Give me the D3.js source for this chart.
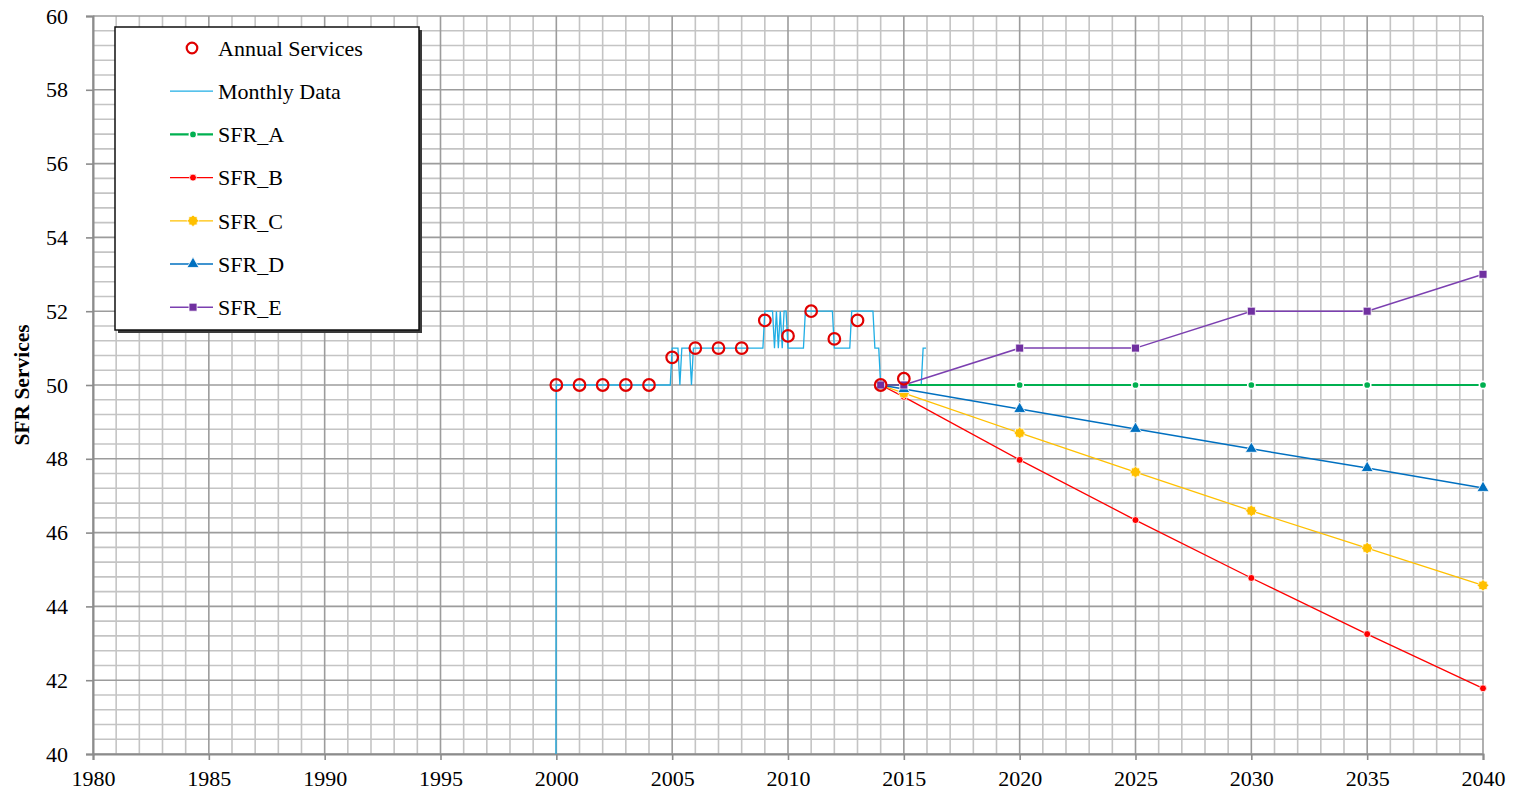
<!DOCTYPE html>
<html>
<head>
<meta charset="utf-8">
<script src="https://cdn.jsdelivr.net/npm/d3@7"></script>
<style>
  html, body { margin: 0; padding: 0; background: #ffffff; }
  svg { display: block; font-family: "Liberation Serif", "Times New Roman", serif; }
</style>
</head>
<body>
<svg id="chart" width="1515" height="793"></svg>
<script>
// ---------------- DATA ----------------
const xTickYears = [1980, 1985, 1990, 1995, 2000, 2005, 2010, 2015, 2020, 2025, 2030, 2035, 2040];
const yTickValues = [40, 42, 44, 46, 48, 50, 52, 54, 56, 58, 60];

// Annual services (red open circles)
const annualYears  = [2000, 2001, 2002, 2003, 2004, 2005, 2006, 2007, 2008, 2009, 2010, 2011, 2012, 2013, 2014, 2015];
const annualValues = [50, 50, 50, 50, 50, 50.75, 51, 51, 51, 51.75, 51.33, 52, 51.25, 51.75, 50, 50.17];

// Monthly data (vertices of the monthly line, year as decimal)
const monthlyYears  = [1999.917, 2000, 2004.917, 2005, 2005.25, 2005.333, 2005.417, 2005.75, 2005.833, 2005.917,
  2008.917, 2009, 2009.333, 2009.417, 2009.5, 2009.583, 2009.667, 2009.75, 2009.833, 2009.917, 2010,
  2010.667, 2010.75, 2011.917, 2012, 2012.667, 2012.75, 2013.667, 2013.75, 2013.917, 2014,
  2015.75, 2015.833, 2015.958];
const monthlyValues = [0, 50, 50, 51, 51, 50, 51, 51, 50, 51,
  51, 52, 52, 51, 52, 51, 52, 51, 52, 52, 51,
  51, 52, 52, 51, 51, 52, 52, 51, 51, 50,
  50, 51, 51];

// Projections
const projYears = [2014, 2015, 2020, 2025, 2030, 2035, 2040];
const sfrA = [50, 50, 50, 50, 50, 50, 50];
const sfrB = [50, 49.68, 47.97, 46.34, 44.77, 43.25, 41.78];
const sfrC = [50, 49.78, 48.70, 47.64, 46.59, 45.58, 44.57];
const sfrD = [50, 49.89, 49.35, 48.81, 48.27, 47.75, 47.21];
const sfrE = [50, 50, 51, 51, 52, 52, 53];

const seriesNames = ["SFR_A", "SFR_B", "SFR_C", "SFR_D", "SFR_E"];

// ---------------- STYLES ----------------
const seriesStyle = {
  SFR_A: { color: "#00B050", line: "#00B050", width: 2.2, shape: "circle", size: 42 },
  SFR_B: { color: "#FF0000", line: "#FF0000", width: 1.3, shape: "circle", size: 38 },
  SFR_C: { color: "#FFC000", line: "#FFC000", width: 1.3, shape: "star", size: 95 },
  SFR_D: { color: "#0070C0", line: "#0070C0", width: 1.5, shape: "triangle", size: 62 },
  SFR_E: { color: "#7030A0", line: "#7B3FB0", width: 1.5, shape: "square", size: 64 }
};
const monthlyColor = "#1FAEE5";
const annualColor = "#E00000";

const svg = d3.select("#chart");
const pLeft = 93, pRight = 1483, pTop = 16, pBottom = 754;

const x = d3.scaleLinear().domain([1980, 2040]).range([pLeft, pRight]);
const y = d3.scaleLinear().domain([40, 60]).range([pBottom, pTop]);

// clip
svg.append("defs").append("clipPath").attr("id", "plotclip")
  .append("rect").attr("x", pLeft).attr("y", pTop).attr("width", pRight - pLeft).attr("height", pBottom - pTop);

// ---------------- GRID ----------------
const grid = svg.append("g");
const minorX = d3.range(1980, 2041, 1).filter(v => v % 5 !== 0);
const minorY = d3.range(0, 51).map(i => 40 + i * 0.4).filter(v => Math.abs(v / 2 - Math.round(v / 2)) > 1e-6);

grid.selectAll("line.mx").data(minorX).join("line")
  .attr("x1", d => x(d)).attr("x2", d => x(d)).attr("y1", pTop).attr("y2", pBottom)
  .attr("stroke", "#c4c4c4").attr("stroke-width", 1.6);
grid.selectAll("line.my").data(minorY).join("line")
  .attr("x1", pLeft).attr("x2", pRight).attr("y1", d => y(d)).attr("y2", d => y(d))
  .attr("stroke", "#c4c4c4").attr("stroke-width", 1.6);
grid.selectAll("line.MX").data(xTickYears).join("line")
  .attr("x1", d => x(d)).attr("x2", d => x(d)).attr("y1", pTop).attr("y2", pBottom)
  .attr("stroke", "#9c9c9c").attr("stroke-width", 1.6);
grid.selectAll("line.MY").data(yTickValues).join("line")
  .attr("x1", pLeft).attr("x2", pRight).attr("y1", d => y(d)).attr("y2", d => y(d))
  .attr("stroke", "#9c9c9c").attr("stroke-width", 1.6);

// ---------------- AXES ----------------
const yAxis = d3.axisLeft(y).tickValues(yTickValues).tickSize(7).tickPadding(18).tickFormat(d3.format("d"));
const gy = svg.append("g").attr("transform", `translate(${pLeft},0)`).call(yAxis);
gy.select(".domain").attr("stroke", "#8c8c8c").attr("stroke-width", 2);
gy.selectAll(".tick line").attr("stroke", "#8c8c8c").attr("stroke-width", 1.6);
gy.selectAll(".tick text").attr("font-size", "22px").attr("fill", "#000")
  .attr("font-family", "Liberation Serif, Times New Roman, serif");

const xAxis = d3.axisBottom(x).tickValues(xTickYears).tickSize(6).tickPadding(10).tickFormat(d3.format("d"));
const gx = svg.append("g").attr("transform", `translate(0,${pBottom})`).call(xAxis);
gx.select(".domain").attr("stroke", "#8c8c8c").attr("stroke-width", 2);
gx.selectAll(".tick line").attr("stroke", "#8c8c8c").attr("stroke-width", 1.6);
gx.selectAll(".tick text").attr("font-size", "22px").attr("fill", "#000")
  .attr("font-family", "Liberation Serif, Times New Roman, serif");

svg.append("text")
  .attr("transform", `translate(29,${(pTop + pBottom) / 2}) rotate(-90)`)
  .attr("text-anchor", "middle")
  .attr("font-size", "21.5px").attr("font-weight", "bold")
  .text("SFR Services");

// ---------------- SYMBOLS ----------------
function symbolPath(shape, size) {
  if (shape === "circle") return d3.symbol(d3.symbolCircle, size)();
  if (shape === "triangle") return d3.symbol(d3.symbolTriangle, size)();
  if (shape === "square") return d3.symbol(d3.symbolSquare, size)();
  if (shape === "star") {
    const r1 = Math.sqrt(size) * 0.6, r2 = r1 * 0.78, n = 8, pts = [];
    for (let i = 0; i < n * 2; i++) {
      const a = Math.PI * i / n - Math.PI / 2;
      const r = i % 2 === 0 ? r1 : r2;
      pts.push([r * Math.cos(a), r * Math.sin(a)]);
    }
    return "M" + pts.map(p => p.join(",")).join("L") + "Z";
  }
}

// ---------------- MONTHLY LINE ----------------
const plot = svg.append("g").attr("clip-path", "url(#plotclip)");
const monthly = monthlyYears.map((yr, i) => [yr, monthlyValues[i]]);
plot.append("path").datum(monthly)
  .attr("d", d3.line().x(d => x(d[0])).y(d => y(d[1])))
  .attr("fill", "none").attr("stroke", monthlyColor).attr("stroke-width", 1.3);

// ---------------- PROJECTIONS ----------------
const seriesData = { SFR_A: sfrA, SFR_B: sfrB, SFR_C: sfrC, SFR_D: sfrD, SFR_E: sfrE };
const lineGen = d3.line().x(d => x(d[0])).y(d => y(d[1]));
seriesNames.forEach(name => {
  const st = seriesStyle[name];
  const pts = projYears.map((yr, i) => [yr, seriesData[name][i]]);
  svg.append("path").datum(pts).attr("d", lineGen)
    .attr("fill", "none").attr("stroke", st.line).attr("stroke-width", st.width);
});
seriesNames.forEach(name => {
  const st = seriesStyle[name];
  const pts = projYears.map((yr, i) => [yr, seriesData[name][i]]);
  svg.append("g").selectAll("path").data(pts).join("path")
    .attr("transform", d => `translate(${x(d[0])},${y(d[1])})`)
    .attr("d", symbolPath(st.shape, st.size))
    .attr("fill", st.color).attr("stroke", "#ffffff").attr("stroke-width", name === "SFR_A" ? 1.6 : 0.8);
});

// ---------------- ANNUAL CIRCLES ----------------
svg.append("g").selectAll("circle").data(annualYears.map((yr, i) => [yr, annualValues[i]])).join("circle")
  .attr("cx", d => x(d[0])).attr("cy", d => y(d[1])).attr("r", 5.8)
  .attr("fill", "none").attr("stroke", annualColor).attr("stroke-width", 2.2);

// ---------------- LEGEND ----------------
const lg = svg.append("g");
const lx = 115, ly = 27, lw = 304, lh = 303;
lg.append("rect").attr("x", lx + 3).attr("y", ly + 3).attr("width", lw).attr("height", lh).attr("fill", "#3a3a3a");
lg.append("rect").attr("x", lx).attr("y", ly).attr("width", lw).attr("height", lh)
  .attr("fill", "#ffffff").attr("stroke", "#111").attr("stroke-width", 1.5);

const legendItems = ["Annual Services", "Monthly Data"].concat(seriesNames);
legendItems.forEach((name, i) => {
  const cy = 48 + i * 43.2;
  const g = lg.append("g");
  if (name === "Annual Services") {
    g.append("circle").attr("cx", 192).attr("cy", cy).attr("r", 5.3)
      .attr("fill", "none").attr("stroke", annualColor).attr("stroke-width", 2.2);
  } else if (name === "Monthly Data") {
    g.append("line").attr("x1", 170).attr("x2", 213).attr("y1", cy).attr("y2", cy)
      .attr("stroke", monthlyColor).attr("stroke-width", 1.3);
  } else {
    const st = seriesStyle[name];
    g.append("line").attr("x1", 170).attr("x2", 213).attr("y1", cy).attr("y2", cy)
      .attr("stroke", st.line).attr("stroke-width", st.width);
    g.append("path").attr("transform", `translate(193,${cy})`)
      .attr("d", symbolPath(st.shape, st.size))
      .attr("fill", st.color).attr("stroke", "#ffffff").attr("stroke-width", name === "SFR_A" ? 1.6 : 0.8);
  }
  g.append("text").attr("x", 218).attr("y", cy).attr("dy", "0.35em")
    .attr("font-size", "22px").attr("fill", "#000").text(name);
});
</script>
</body>
</html>
